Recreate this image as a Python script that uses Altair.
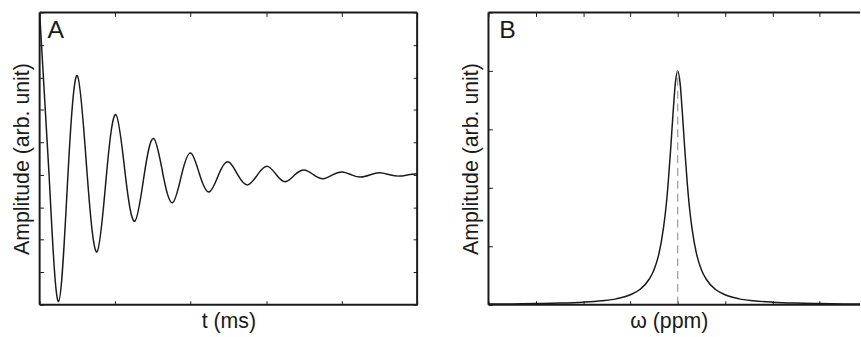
import altair as alt
import pandas as pd

# ---- Panel A: free induction decay (extrema and baseline crossings) ----
fid_t = [0.0, 0.125, 0.25, 0.375, 0.50, 0.63, 0.76, 0.885, 1.01, 1.135,
         1.26, 1.385, 1.51, 1.635, 1.76, 1.88, 2.0, 2.12, 2.245, 2.37,
         2.495, 2.625, 2.755, 2.885, 3.015, 3.135, 3.255, 3.38, 3.505, 3.63,
         3.755, 3.88, 4.005, 4.13, 4.255, 4.38, 4.505, 4.635, 4.765, 4.885, 5.0]
fid_amp = [5.0, 0, -3.9, 0, 3.05, 0, -2.37, 0, 1.85, 0,
           -1.43, 0, 1.12, 0, -0.86, 0, 0.67, 0, -0.53, 0,
           0.40, 0, -0.31, 0, 0.26, 0, -0.21, 0, 0.15, 0,
           -0.12, 0, 0.09, 0, -0.07, 0, 0.06, 0, -0.04, 0, 0.03]

# ---- Panel B: Lorentzian line shape ----
spec_ppm = [-4, -3.5, -3, -2.5, -2, -1.6, -1.3, -1, -0.8, -0.6, -0.5, -0.4,
            -0.3, -0.25, -0.2, -0.15, -0.1, -0.05, 0, 0.05, 0.1, 0.15, 0.2,
            0.25, 0.3, 0.4, 0.5, 0.6, 0.8, 1, 1.3, 1.6, 2, 2.5, 3, 3.5, 4]
spec_amp = [0.011, 0.014, 0.020, 0.028, 0.044, 0.068, 0.10, 0.17, 0.26, 0.44,
            0.60, 0.86, 1.32, 1.65, 2.10, 2.65, 3.26, 3.79, 4.0, 3.79, 3.26,
            2.65, 2.10, 1.65, 1.32, 0.86, 0.60, 0.44, 0.26, 0.17, 0.10, 0.068,
            0.044, 0.028, 0.020, 0.014, 0.011]
peak_ppm = [0]
peak_amp = [4.0]

# tick positions
a_xticks = [0, 1, 2, 3, 4, 5]
a_yticks = [-4, -3, -2, -1, 0, 1, 2, 3, 4, 5]
b_xticks = [-4, -3, -2, -1, 0, 1, 2, 3]
b_yticks = [0, 1, 2, 3, 4, 5]

FONT = "Liberation Sans"
INK = "#1a1a1a"
W_A, W_B, H = 381, 375, 295

fid = pd.DataFrame({"t": fid_t, "amp": fid_amp})
spec = pd.DataFrame({"ppm": spec_ppm, "amp": spec_amp})
peak = pd.DataFrame({"ppm": peak_ppm, "amp": peak_amp, "base": [0]})
one = alt.Data(values=[{}])


def ax(orient, values, title=None, **kw):
    return alt.Axis(orient=orient, values=values, labels=False, domain=False,
                    grid=False, ticks=True, tickSize=4, offset=-4,
                    tickColor=INK, tickWidth=1, title=title, **kw)


def frame(w, h, right=True):
    sides = [
        alt.Chart(one).mark_rule(color=INK, strokeWidth=2).encode(
            x=alt.value(0), x2=alt.value(w), y=alt.value(0)),
        alt.Chart(one).mark_rule(color=INK, strokeWidth=2).encode(
            x=alt.value(0), x2=alt.value(w), y=alt.value(h)),
        alt.Chart(one).mark_rule(color=INK, strokeWidth=2).encode(
            x=alt.value(0), y=alt.value(0), y2=alt.value(h)),
    ]
    if right:
        sides.append(alt.Chart(one).mark_rule(color=INK, strokeWidth=2).encode(
            x=alt.value(w), y=alt.value(0), y2=alt.value(h)))
    return sides


def letter(txt, x):
    return alt.Chart(one).mark_text(
        text=txt, font=FONT, fontSize=25, color=INK, align="left",
        baseline="alphabetic").encode(x=alt.value(x), y=alt.value(26))


# Panel A
xa = alt.Scale(domain=[0, 5], nice=False, zero=False)
ya = alt.Scale(domain=[-4, 5], nice=False, zero=False)
fid_line = alt.Chart(fid).mark_line(
    color=INK, strokeWidth=1.5, interpolate="natural", clip=True).encode(
    x=alt.X("t:Q", scale=xa, axis=ax("bottom", a_xticks, "t (ms)")),
    y=alt.Y("amp:Q", scale=ya, axis=ax("left", a_yticks, "Amplitude (arb. unit)")),
)
fid_mirror = alt.Chart(fid).mark_line(strokeOpacity=0).encode(
    x=alt.X("t:Q", scale=xa, axis=ax("top", a_xticks)),
    y=alt.Y("amp:Q", scale=ya, axis=ax("right", a_yticks)),
)
panel_a = alt.layer(fid_line, fid_mirror, *frame(W_A, H), letter("A", 8)).resolve_axis(
    x="independent", y="independent").properties(width=W_A, height=H)

# Panel B (its right edge runs past the page, so no right-hand ticks)
xb = alt.Scale(domain=[-4, 3.853], nice=False, zero=False)
yb = alt.Scale(domain=[0, 5], nice=False, zero=False)
spec_line = alt.Chart(spec).mark_line(
    color=INK, strokeWidth=1.5, interpolate="monotone", clip=True).encode(
    x=alt.X("ppm:Q", scale=xb, axis=ax("bottom", b_xticks, "ω (ppm)", titleX=182)),
    y=alt.Y("amp:Q", scale=yb, axis=ax("left", b_yticks, "Amplitude (arb. unit)")),
)
spec_mirror = alt.Chart(spec).mark_line(strokeOpacity=0, clip=True).encode(
    x=alt.X("ppm:Q", scale=xb, axis=ax("top", b_xticks)),
    y=alt.Y("amp:Q", scale=yb, axis=None),
)
# dashed marker at the peak centre
center = alt.Chart(peak).mark_rule(color="#9a9a9a", strokeWidth=1.2,
                                   strokeDash=[8, 5]).encode(
    x=alt.X("ppm:Q", scale=xb, axis=None),
    y=alt.Y("base:Q", scale=yb, axis=None),
    y2="amp:Q")
panel_b = alt.layer(spec_line, spec_mirror, center, *frame(W_B, H, right=False),
                    letter("B", 11)).resolve_axis(
    x="independent", y="independent").properties(width=W_B, height=H)

chart = alt.hconcat(panel_a, panel_b, spacing=42).properties(
    padding={"left": 11, "top": 10, "right": 0, "bottom": 0}
).configure_view(stroke=None).configure_axis(
    titleFont=FONT, titleFontSize=21.5, titleFontWeight="normal",
    titleColor=INK, titlePadding=6,
)

chart.save("out.html", embed_options={"renderer": "svg", "actions": False})
